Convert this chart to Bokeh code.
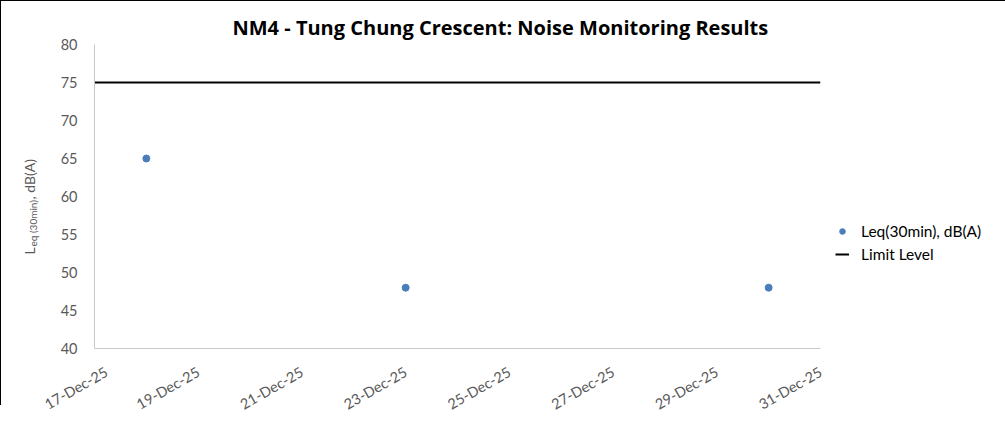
from math import pi
import pandas as pd
from bokeh.plotting import figure
from bokeh.layouts import row
from bokeh.models import Range1d, FixedTicker, DatetimeTickFormatter, Legend, LegendItem
from bokeh.core.properties import value
from bokeh.embed import file_html
from bokeh.resources import INLINE

# ---- data ----
title_text = "NM4 - Tung Chung Crescent: Noise Monitoring Results"
measure_dates = ["2025-12-18", "2025-12-23", "2025-12-30"]
leq_values = [65, 48, 48]
limit_dates = ["2025-12-17", "2025-12-31"]
limit_values = [75, 75]
x_tick_dates = ["2025-12-17", "2025-12-19", "2025-12-21", "2025-12-23",
                "2025-12-25", "2025-12-27", "2025-12-29", "2025-12-31"]
y_ticks = [40, 45, 50, 55, 60, 65, 70, 75, 80]
series_label = "Leq(30min), dB(A)"
limit_label = "Limit Level"
ylabel_parts = ["L", "eq (30min)", ", dB(A)"]

FONT = "Lato"
TICK_COLOR = "#595959"
FRAME_H = 303
LAB_W = 40

mx = pd.to_datetime(measure_dates)
lx = pd.to_datetime(limit_dates)
tx = pd.to_datetime(x_tick_dates)
tick_ms = (tx.astype("int64") // 10**6).tolist()

# ---- left strip holding the y-axis title (with subscript) ----
lab = figure(frame_width=LAB_W, frame_height=FRAME_H, x_range=Range1d(0, LAB_W),
             y_range=Range1d(0, FRAME_H), x_axis_type=None, y_axis_type=None,
             min_border=0, min_border_top=43, min_border_bottom=58, title=None,
             output_backend="svg", toolbar_location=None)
lab.outline_line_color = None
lab.styles = {"border-left": "1px solid #000", "border-top": "1px solid #000"}
# all pieces share one anchor (strip centre, left edge); pixel offsets place them
piece_style = [("14px", 28, 58), ("10px", 31, 50), ("14px", 28, 3)]
for txt, (size, dx, dy) in zip(ylabel_parts, piece_style):
    lab.text(x=[0], y=[FRAME_H / 2], text=[txt], angle=pi / 2, x_offset=dx, y_offset=dy,
             text_align="left", text_baseline="alphabetic", text_font=value(FONT),
             text_font_size=size, text_color=TICK_COLOR)

# ---- main chart ----
p = figure(frame_width=725, frame_height=FRAME_H, x_axis_type="datetime",
           x_range=Range1d(tx[0], tx[-1]), y_range=Range1d(y_ticks[0], y_ticks[-1]),
           min_border_left=53, min_border_right=171, min_border_top=43,
           min_border_bottom=58, output_backend="svg", toolbar_location=None)
p.styles = {"border-top": "1px solid #000", "border-right": "1px solid #000"}
p.xgrid.visible = False
p.ygrid.visible = False
p.outline_line_color = None

p.title.text = title_text
p.title.align = "left"
p.title.offset = 138
p.title.standoff = 7
p.title.text_font = "Open Sans"
p.title.text_font_style = "bold"
p.title.text_font_size = "20px"
p.title.text_color = "black"

line_r = p.line(lx, limit_values, line_color="black", line_width=2)
pts_r = p.scatter(mx, leq_values, size=7, fill_color="#4a7ebb", line_color="#4a7ebb")

for ax in (p.xaxis[0], p.yaxis[0]):
    ax.axis_line_color = "#c8c8c8"
    ax.axis_line_width = 1
    ax.major_tick_line_color = None
    ax.minor_tick_line_color = None
    ax.major_label_text_font = FONT
    ax.major_label_text_font_size = "14.5px"
    ax.major_label_text_color = TICK_COLOR

p.xaxis.ticker = FixedTicker(ticks=tick_ms)
p.xaxis.formatter = DatetimeTickFormatter(days="%d-%b-%y", months="%d-%b-%y",
                                          hours="%d-%b-%y")
p.xaxis.major_label_orientation = 0.52
p.xaxis.major_label_standoff = 16
p.yaxis.ticker = FixedTicker(ticks=y_ticks)
p.yaxis.major_label_standoff = 11

legend = Legend(items=[LegendItem(label=series_label, renderers=[pts_r]),
                       LegendItem(label=limit_label, renderers=[line_r])],
                location=(15, 85), border_line_color=None, background_fill_alpha=0,
                padding=0, margin=0, spacing=5, glyph_width=14, glyph_height=16,
                label_height=16, label_standoff=12, label_text_font=FONT,
                label_text_font_size="15.5px", label_text_color="black")
p.add_layout(legend, "right")

layout = row(lab, p, spacing=0)
open("out.html", "w").write(file_html(layout, INLINE))
